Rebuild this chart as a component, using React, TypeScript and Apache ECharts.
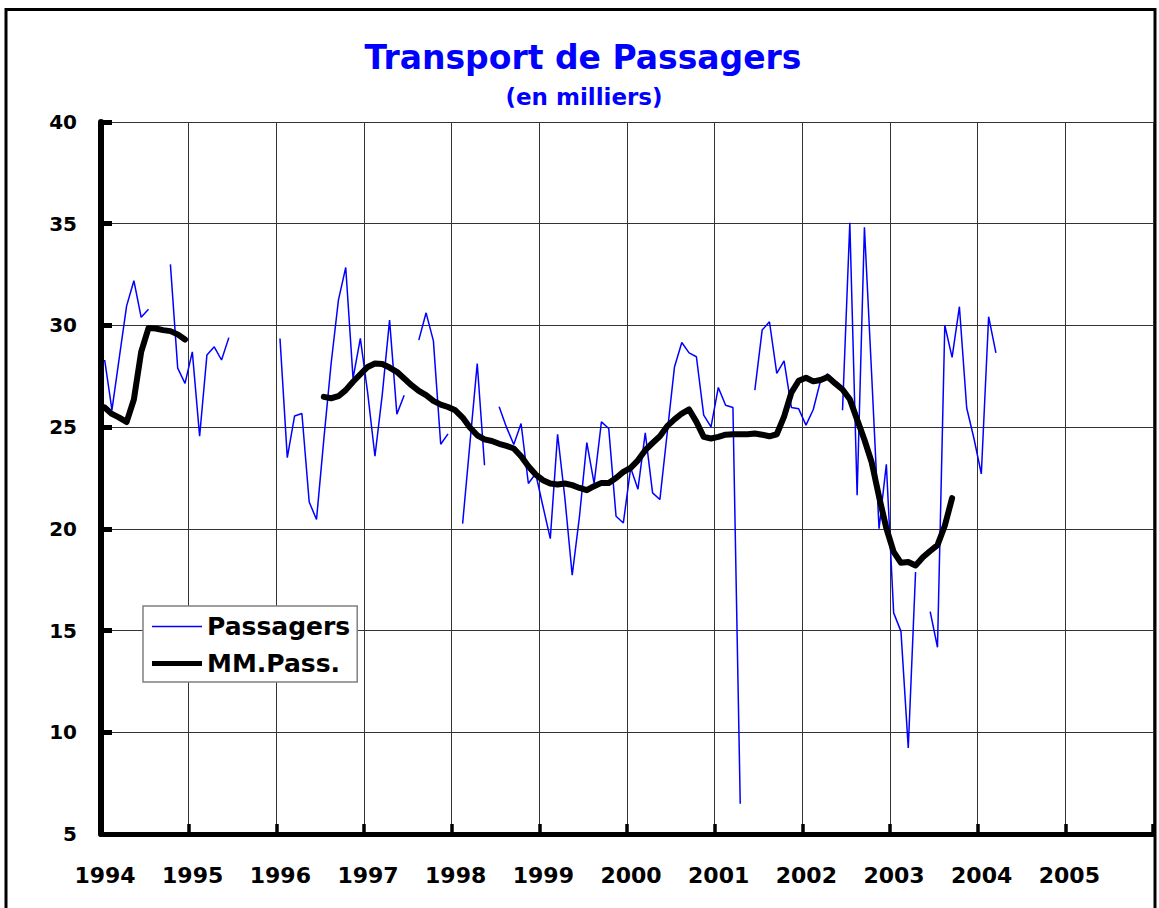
import React, { useEffect, useRef } from "react";
import * as echarts from "echarts";

// Monthly values (thousands of passengers), Jan..Dec, null = no data
const pass1994 = [28.3, 25.85, 28.4, 30.95, 32.2, 30.4, 30.8, null, null, 33.0, 27.9, 27.15];
const pass1995 = [28.7, 24.55, 28.55, 28.95, 28.3, 29.4, null, null, null, null, null, null];
const pass1996 = [29.36, 23.5, 25.55, 25.67, 21.32, 20.46, 24.4, 28.13, 31.24, 32.85, 27.4, 29.36];
const pass1997 = [26.7, 23.57, 26.6, 30.26, 25.64, 26.57, null, 29.28, 30.62, 29.24, 24.16, 24.67];
const pass1998 = [null, 20.26, 24.2, 28.13, 23.13, null, 26.0, 25.0, 24.15, 25.18, 22.23, 22.72];
const pass1999 = [21.1, 19.52, 24.65, 21.5, 17.72, 20.63, 24.24, 22.23, 25.26, 24.93, 20.62, 20.29];
const pass2000 = [23.0, 21.95, 24.72, 21.77, 21.44, 24.7, 27.96, 29.16, 28.65, 28.46, 25.59, 25.01];
const pass2001 = [26.95, 26.08, 25.97, 6.49, null, 26.82, 29.77, 30.18, 27.64, 28.26, 25.97, 25.9];
const pass2002 = [25.1, 25.87, 27.3, 27.64, null, 25.83, 35.05, 21.65, 34.82, 27.5, 20.01, 23.17];
const pass2003 = [15.87, 14.96, 9.23, 17.88, null, 15.93, 14.18, 30.01, 28.43, 30.92, 25.94, 24.43];
const pass2004 = [22.7, 30.43, 28.65];

// Moving average
const mm1994 = [25.97, 25.65, 25.47, 25.25, 26.36, 28.7, 29.87, 29.85, 29.77, 29.72, 29.56, 29.31];
const mm1995 = [null, null, null, null, null, null, null, null, null, null, null, null];
const mm1996 = [null, null, null, null, null, null, 26.49, 26.42, 26.52, 26.82, 27.23, 27.6];
const mm1997 = [27.96, 28.13, 28.1, 27.93, 27.72, 27.39, 27.06, 26.78, 26.57, 26.29, 26.11, 25.99];
const mm1998 = [25.83, 25.47, 24.98, 24.6, 24.4, 24.32, 24.18, 24.08, 23.95, 23.57, 23.08, 22.67];
const mm1999 = [22.39, 22.23, 22.18, 22.23, 22.15, 22.01, 21.9, 22.1, 22.26, 22.26, 22.5, 22.8];
const mm2000 = [23.0, 23.37, 23.87, 24.22, 24.55, 25.05, 25.38, 25.67, 25.87, 25.26, 24.52, 24.44];
const mm2001 = [24.52, 24.63, 24.65, 24.65, 24.65, 24.69, 24.63, 24.55, 24.65, 25.52, 26.7, 27.28];
const mm2002 = [27.43, 27.25, 27.32, 27.47, 27.15, 26.85, 26.37, 25.37, 24.38, 23.26, 21.58, 20.03];
const mm2003 = [18.87, 18.33, 18.37, 18.2, 18.6, 18.91, 19.2, 20.15, 21.51];

const START_YEAR = 1994;
const END_YEAR = 2006;
const seriesNames = ["Passagers", "MM.Pass."];
const titleText = "Transport de Passagers";
const subtitleText = "(en milliers)";

const passagers = [
  ...pass1994, ...pass1995, ...pass1996, ...pass1997, ...pass1998, ...pass1999,
  ...pass2000, ...pass2001, ...pass2002, ...pass2003, ...pass2004,
];
const moyenne = [
  ...mm1994, ...mm1995, ...mm1996, ...mm1997, ...mm1998, ...mm1999,
  ...mm2000, ...mm2001, ...mm2002, ...mm2003,
];

const toPoints = (arr: (number | null)[]) =>
  arr.map((v, i) => [START_YEAR + (i + 0.5) / 12, v === null ? "-" : v]);

const FONT = '"DejaVu Sans", "Liberation Sans", Arial, sans-serif';

export default function App() {
  const ref = useRef<HTMLDivElement>(null);
  useEffect(() => {
    if (!ref.current) return;
    const chart = echarts.init(ref.current, null, { renderer: "svg" });
    chart.setOption({
      animation: false,
      backgroundColor: "#ffffff",
      grid: { left: 101, top: 122, width: 1052, height: 712, containLabel: false },
      graphic: [
        {
          type: "rect",
          shape: { x: 6, y: 9.5, width: 1149, height: 1000 },
          style: { fill: "none", stroke: "#000", lineWidth: 3 },
          silent: true,
        },
        {
          type: "text",
          x: 583,
          y: 57,
          style: {
            text: titleText,
            font: `bold 33px ${FONT}`,
            fill: "#0000FF",
            textAlign: "center",
            textVerticalAlign: "middle",
            align: "center",
            verticalAlign: "middle",
          },
        },
        {
          type: "text",
          x: 584,
          y: 97,
          style: {
            text: subtitleText,
            font: `bold 23px ${FONT}`,
            fill: "#0000FF",
            textAlign: "center",
            textVerticalAlign: "middle",
            align: "center",
            verticalAlign: "middle",
          },
        },
      ],
      legend: {
        show: true,
        orient: "vertical",
        left: 143,
        top: 606,
        itemWidth: 50,
        itemHeight: 14,
        itemGap: 12,
        padding: [8, 7, 6, 9],
        borderColor: "#808080",
        borderWidth: 1.5,
        backgroundColor: "#ffffff",
        selectedMode: false,
        symbolKeepAspect: true,
        textStyle: { fontFamily: FONT, fontWeight: "bold", fontSize: 25, color: "#000" },
        data: [
          { name: seriesNames[0], icon: "path://M0,0H50V1.5H0Z", itemStyle: { color: "#0000FF" } },
          { name: seriesNames[1], icon: "path://M0,0H50V5H0Z", itemStyle: { color: "#000000" } },
        ],
      },
      xAxis: {
        type: "value",
        min: START_YEAR,
        max: END_YEAR,
        interval: 1,
        axisLine: { onZero: false, lineStyle: { color: "#000", width: 5 } },
        axisTick: { show: true, inside: true, length: 10, lineStyle: { color: "#000", width: 3.5 } },
        axisLabel: {
          margin: 30,
          padding: [0, 0, 0, 8],
          fontFamily: FONT,
          fontWeight: "bold",
          fontSize: 22,
          color: "#000",
          formatter: (v: number) => (v >= END_YEAR ? "" : String(v)),
        },
        splitLine: { show: true, lineStyle: { color: "#333", width: 1 } },
      },
      yAxis: {
        type: "value",
        min: 5,
        max: 40,
        interval: 5,
        axisLine: { show: true, lineStyle: { color: "#000", width: 6 } },
        axisTick: { show: true, inside: true, length: 11, lineStyle: { color: "#000", width: 5 } },
        axisLabel: {
          margin: 24,
          fontFamily: FONT,
          fontWeight: "bold",
          fontSize: 20,
          color: "#000",
        },
        splitLine: { show: true, lineStyle: { color: "#333", width: 1 } },
      },
      series: [
        {
          name: seriesNames[0],
          type: "line",
          data: toPoints(passagers),
          symbol: "none",
          connectNulls: false,
          lineStyle: { color: "#0000FF", width: 1.5 },
          itemStyle: { color: "#0000FF" },
          z: 2,
        },
        {
          name: seriesNames[1],
          type: "line",
          data: toPoints(moyenne),
          symbol: "none",
          connectNulls: false,
          lineStyle: { color: "#000", width: 6, cap: "round", join: "round" },
          itemStyle: { color: "#000" },
          z: 3,
        },
      ],
    });
    return () => chart.dispose();
  }, []);
  return (
    <div
      ref={ref}
      style={{ position: "fixed", left: 0, top: 0, width: 1159, height: 908 }}
    />
  );
}
